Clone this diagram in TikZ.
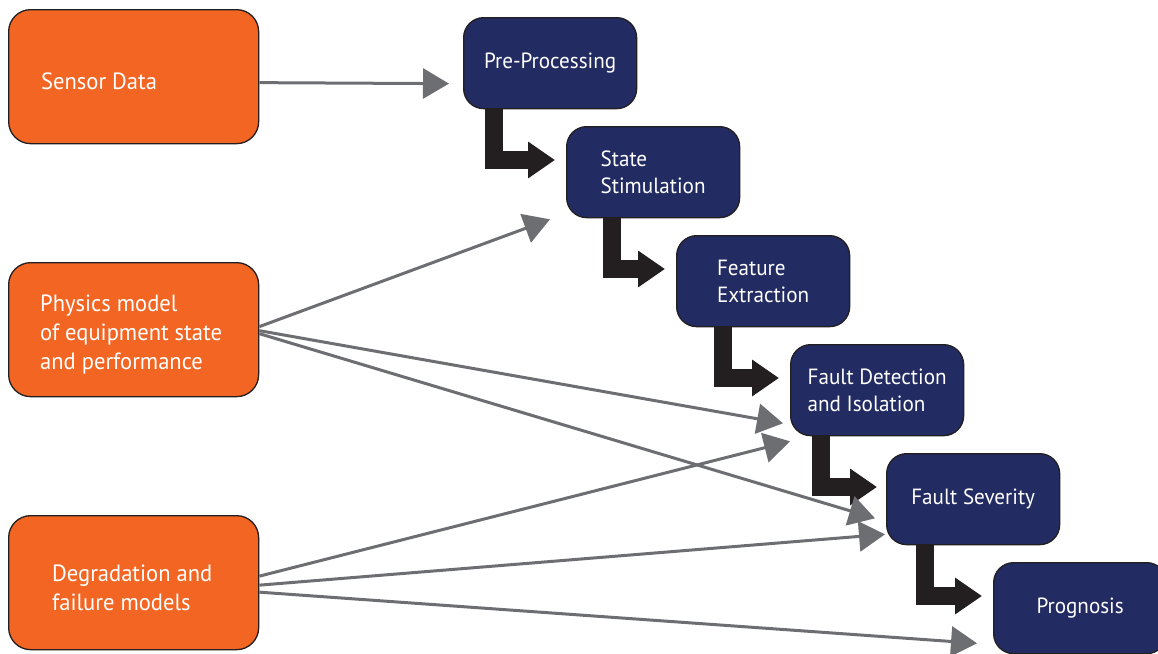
\documentclass[tikz,border=0pt]{standalone}
\usepackage{fontspec}
\setmainfont{PT Sans}[FakeStretch=0.96]
\usetikzlibrary{arrows.meta,calc}
\definecolor{srcfill}{HTML}{F26522}
\definecolor{stepfill}{HTML}{222B62}
\definecolor{edgecol}{HTML}{231F20}
\definecolor{linkgray}{HTML}{6D6E71}
\begin{document}
\begin{tikzpicture}[x=1pt,y=-1pt,
  srcbox/.style={draw=edgecol, line width=1.3pt, fill=srcfill, rounded corners=22pt,
    minimum width=250pt, minimum height=134pt, anchor=north west, inner sep=0pt},
  srctext/.style={text=white, align=left, anchor=west, inner sep=0pt,
    font=\fontsize{23.5}{29}\selectfont},
  stepbox/.style={draw=edgecol, line width=1.3pt, fill=stepfill, rounded corners=20pt,
    minimum width=173pt, minimum height=91pt, anchor=north west, inner sep=0pt,
    text=white, align=left, font=\fontsize{22}{27}\selectfont},
  elbow/.style={draw=edgecol, line width=18pt, line join=miter,
    -{Triangle[length=27pt,width=35pt]}},
  link/.style={draw=linkgray, line width=3pt,
    -{Triangle[length=26pt,width=30pt]}}
]
\useasboundingbox (0,0) rectangle (1158,653);

% source boxes
\node[srcbox] (sd) at (8,9) {};
\node[srcbox] (ph) at (8,262) {};
\node[srcbox] (dg) at (8,515) {};
\node[srctext] (sdT) at ($(sd.west)+(33,5)$) {Sensor Data};
\node[srctext] (phT) at ($(ph.west)+(32,5)$) {Physics model\\of equipment state\\and performance};
\node[srctext] (dgT) at ($(dg.west)+(44,5)$) {Degradation and\\failure models};

% step box positions
\coordinate (ppP) at (463,17);
\coordinate (ssP) at (566,126);
\coordinate (feP) at (676,235);
\coordinate (fdP) at (790,344);
\coordinate (fsP) at (886,453);
\coordinate (prP) at (993,562);

% invisible frames used to draw the elbow arrows beneath the boxes
\path (ppP) node[stepbox, draw=none, fill=none] (pp0) {};
\path (ssP) node[stepbox, draw=none, fill=none] (ss0) {};
\path (feP) node[stepbox, draw=none, fill=none] (fe0) {};
\path (fdP) node[stepbox, draw=none, fill=none] (fd0) {};
\path (fsP) node[stepbox, draw=none, fill=none] (fs0) {};
\path (prP) node[stepbox, draw=none, fill=none] (pr0) {};

\draw[elbow] ($(pp0.south west)+(31,0)$) |- ($(ss0.north west)+(-11,34)$);
\draw[elbow] ($(ss0.south west)+(46,0)$) |- ($(fe0.north west)+(-11,34)$);
\draw[elbow] ($(fe0.south west)+(47,0)$) |- ($(fd0.north west)+(-11,34)$);
\draw[elbow] ($(fd0.south west)+(31,0)$) |- ($(fs0.north west)+(-9,34)$);
\draw[elbow] ($(fs0.south west)+(39,0)$) |- ($(pr0.north west)+(-11,34)$);

\node[stepbox] (pp) at (ppP) {Pre-Processing};
\node[stepbox] (ss) at (ssP) {State\\Stimulation};
\node[stepbox] (fe) at (feP) {Feature\\Extraction};
\node[stepbox] (fd) at (fdP) {Fault Detection\\and Isolation};
\node[stepbox] (fs) at (fsP) {Fault Severity};
\node[stepbox] (pr) at (prP) {Prognosis};

% gray links
\draw[link] ($(sd.east)+(0,6)$) -- ($(pp.west)+(-14,20.5)$);
\draw[link] ($(ph.east)+(0,-3)$) -- ($(ss.south west)+(-16,1)$);
\draw[link] ($(ph.east)+(0,1)$) -- ($(fd.south west)+(-7,-13)$);
\draw[link] ($(ph.east)+(0,4)$) -- ($(fs.south west)+(-11,-27)$);
\draw[link] ($(dg.east)+(0,-6.5)$) -- ($(fd.south west)+(0,5)$);
\draw[link] ($(dg.east)+(0,2.5)$) -- ($(fs.south west)+(-1,-11)$);
\draw[link] ($(dg.east)+(0,9.5)$) -- ($(pr.south west)+(-16,-11)$);
\end{tikzpicture}
\end{document}
